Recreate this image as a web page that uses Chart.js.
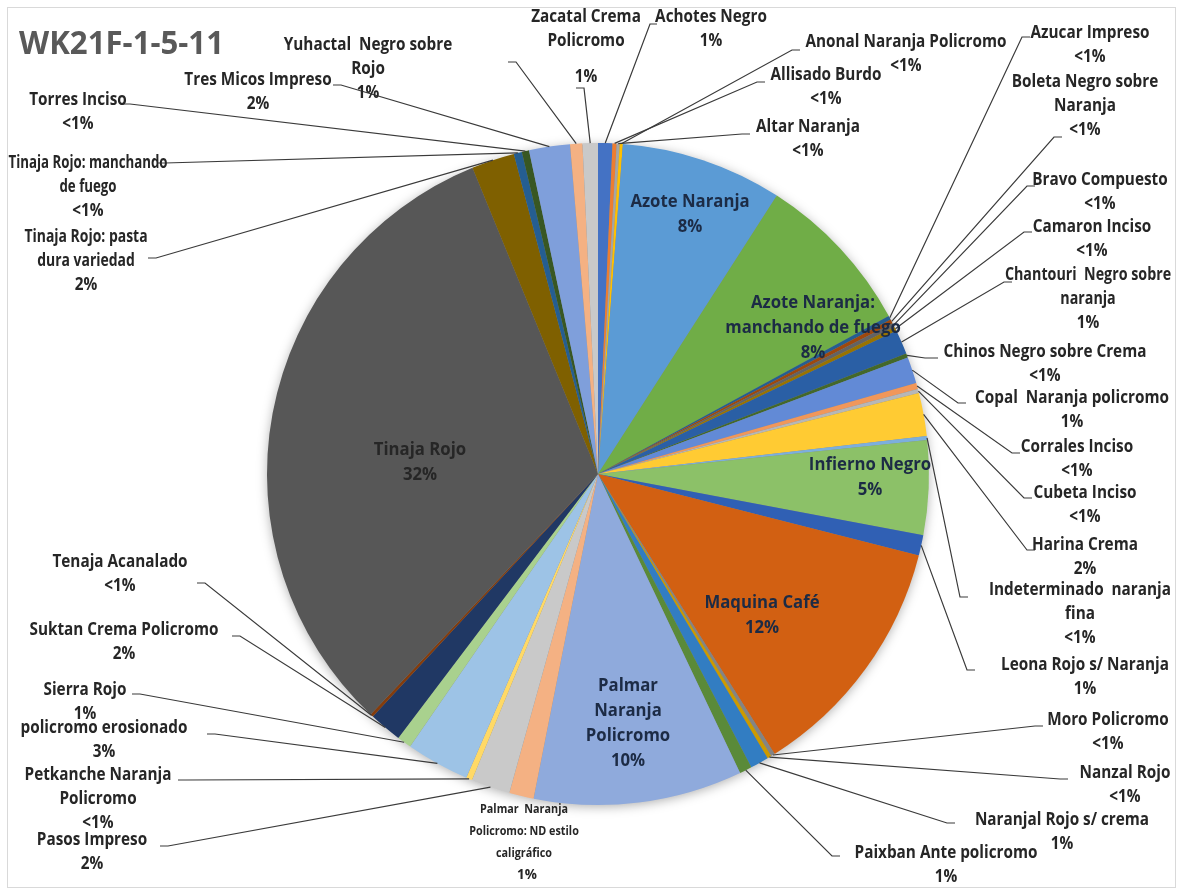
<!DOCTYPE html>
<html>
<head>
<meta charset="utf-8">
<script src="https://cdn.jsdelivr.net/npm/chart.js@4.4.1/dist/chart.umd.min.js"></script>
<style>
  html, body { margin: 0; padding: 0; background: #fff; }
  canvas { display: block; }
</style>
</head>
<body>
<canvas id="pieChart" width="1183" height="892"></canvas>
<script>
// Slice names, clockwise from 12 o'clock
const categories = [
    'Achotes Negro', 'Allisado Burdo', 'Altar Naranja', 'Anonal Naranja Policromo',
    'Azote Naranja', 'Azote Naranja: manchando de fuego', 'Azucar Impreso',
    'Boleta Negro sobre Naranja', 'Bravo Compuesto', 'Camaron Inciso',
    'Chantouri Negro sobre naranja', 'Chinos Negro sobre Crema', 'Copal Naranja policromo',
    'Corrales Inciso', 'Cubeta Inciso', 'Harina Crema', 'Indeterminado naranja fina',
    'Infierno Negro', 'Leona Rojo s/ Naranja', 'Maquina Café', 'Moro Policromo',
    'Nanzal Rojo', 'Naranjal Rojo s/ crema', 'Paixban Ante policromo',
    'Palmar Naranja Policromo', 'Palmar Naranja Policromo: ND estilo caligráfico',
    'Pasos Impreso', 'Petkanche Naranja Policromo', 'policromo erosionado', 'Sierra Rojo',
    'Suktan Crema Policromo', 'Tenaja Acanalado', 'Tinaja Rojo',
    'Tinaja Rojo: pasta dura variedad', 'Tinaja Rojo: manchando de fuego', 'Torres Inciso',
    'Tres Micos Impreso', 'Yuhactal Negro sobre Rojo', 'Zacatal Crema Policromo'
];

// Share of sherds (%)
const values = [
    0.7, 0.2, 0.15, 0.15,
    7.9, 8.0, 0.2,
    0.2, 0.2, 0.2,
    1.2, 0.2, 1.3,
    0.3, 0.2, 2.1, 0.2,
    4.6, 1.0, 12.1, 0.2,
    0.2, 0.9, 0.6,
    10.2, 1.2,
    1.9, 0.3, 3.1, 0.7,
    1.6, 0.15, 31.8,
    2.1, 0.4, 0.35,
    2.0, 0.6, 0.75
];

const colors = [
    '#4472C4', '#ED7D31', '#A5A5A5', '#FFC000',
    '#5B9BD5', '#70AD47', '#255E91',
    '#9E480E', '#636363', '#997300',
    '#2A5FA5', '#43682B', '#628AD6',
    '#F1975A', '#B7B7B7', '#FFCB33', '#7CAFDD',
    '#8CC168', '#3060B4', '#D26012', '#848484',
    '#CC9A00', '#327DC2', '#5A8A39',
    '#8FAADC', '#F4B183',
    '#C9C9C9', '#FFD966', '#9DC3E6', '#A9D18E',
    '#203864', '#843C0C', '#575757',
    '#7F6000', '#255E91', '#385723',
    '#7F9FDB', '#F4B183', '#C9C9C9'
];

const total = values.reduce((a, b) => a + b, 0);
const pctText = (i) => {
    const p = Math.round(values[i] / total * 100);
    return p < 1 ? '<1%' : p + '%';
};

// Label layout: text centre, first line y, wrapped lines, leader start/bend
const outsideLabels = [
    { i: 0,  x: 711,  y: 17,  lines: ['Achotes Negro'], lead: [657, 24, 650] },
    { i: 1,  x: 826,  y: 75,  lines: ['Allisado Burdo'], lead: [765, 82, 757] },
    { i: 2,  x: 808,  y: 127, lines: ['Altar Naranja'], lead: [750, 134, 742] },
    { i: 3,  x: 906,  y: 42,  lines: ['Anonal Naranja Policromo'], lead: [800, 50, 792] },
    { i: 6,  x: 1090, y: 33,  lines: ['Azucar Impreso'], lead: [1030, 37, 1022] },
    { i: 7,  x: 1085, y: 82,  lines: ['Boleta Negro sobre', 'Naranja'], lead: [1062, 137, 1054] },
    { i: 8,  x: 1100, y: 180, lines: ['Bravo Compuesto'], lead: [1035, 186, 1027] },
    { i: 9,  x: 1092, y: 227, lines: ['Camaron Inciso'], lead: [1032, 232, 1024] },
    { i: 10, x: 1088, y: 275, lines: ['Chantouri  Negro sobre', 'naranja'], lead: [1012, 282, 1004], sx: 0.84 },
    { i: 11, x: 1045, y: 352, lines: ['Chinos Negro sobre Crema'], lead: [938, 358, 925] },
    { i: 12, x: 1072, y: 398, lines: ['Copal  Naranja policromo'], lead: [966, 403, 958] },
    { i: 13, x: 1077, y: 447, lines: ['Corrales Inciso'], lead: [1020, 453, 1012] },
    { i: 14, x: 1085, y: 493, lines: ['Cubeta Inciso'], lead: [1032, 498, 1024] },
    { i: 15, x: 1085, y: 545, lines: ['Harina Crema'], lead: [1035, 550, 1027] },
    { i: 16, x: 1080, y: 590, lines: ['Indeterminado  naranja', 'fina'], lead: [968, 597, 960] },
    { i: 18, x: 1085, y: 665, lines: ['Leona Rojo s/ Naranja'], lead: [975, 670, 967] },
    { i: 20, x: 1108, y: 720, lines: ['Moro Policromo'], lead: [1043, 726, 1035] },
    { i: 21, x: 1125, y: 773, lines: ['Nanzal Rojo'], lead: [1068, 779, 1060] },
    { i: 22, x: 1062, y: 820, lines: ['Naranjal Rojo s/ crema'], lead: [955, 823, 947] },
    { i: 23, x: 946,  y: 853, lines: ['Paixban Ante policromo'], lead: [840, 856, 832] },
    { i: 26, x: 92,   y: 840, lines: ['Pasos Impreso'], lead: [160, 846, 168] },
    { i: 27, x: 98,   y: 775, lines: ['Petkanche Naranja', 'Policromo'], lead: [178, 780, 186] },
    { i: 28, x: 104,  y: 728, lines: ['policromo erosionado'], lead: [207, 734, 215] },
    { i: 29, x: 85,   y: 690, lines: ['Sierra Rojo'], lead: [132, 694, 140] },
    { i: 30, x: 124,  y: 630, lines: ['Suktan Crema Policromo'], lead: [232, 636, 240] },
    { i: 31, x: 120,  y: 562, lines: ['Tenaja Acanalado'], lead: [197, 583, 205] },
    { i: 33, x: 86,   y: 237, lines: ['Tinaja Rojo: pasta', 'dura variedad'], lead: [148, 258, 156], sx: 0.82 },
    { i: 34, x: 88,   y: 163, lines: ['Tinaja Rojo: manchando', 'de fuego'], lead: [157, 163, 165], sx: 0.78 },
    { i: 35, x: 78,   y: 100, lines: ['Torres Inciso'], lead: [122, 104, 130] },
    { i: 36, x: 258,  y: 80,  lines: ['Tres Micos Impreso'], lead: [333, 85, 341] },
    { i: 37, x: 368,  y: 45,  lines: ['Yuhactal  Negro sobre', 'Rojo'], lead: [508, 62, 516] },
    { i: 38, x: 586,  y: 17,  lines: ['Zacatal Crema', 'Policromo'], pctY: 77, lead: [576, 88, 584] }
];

const insideLabels = [
    { i: 4,  x: 690, y: 202, lines: ['Azote Naranja'] },
    { i: 5,  x: 813, y: 303, lines: ['Azote Naranja:', 'manchando de fuego'] },
    { i: 17, x: 870, y: 465, lines: ['Infierno Negro'] },
    { i: 19, x: 762, y: 603, lines: ['Maquina Café'] },
    { i: 24, x: 628, y: 686, lines: ['Palmar', 'Naranja', 'Policromo'] },
    { i: 32, x: 420, y: 450, lines: ['Tinaja Rojo'] }
];

const FONT = '"Open Sans", "Liberation Sans", sans-serif';

function drawText(ctx, s, x, y, size, color, align, sx) {
    ctx.save();
    ctx.font = 'bold ' + size + 'px ' + FONT;
    ctx.fillStyle = color;
    ctx.textBaseline = 'middle';
    ctx.textAlign = align || 'center';
    ctx.translate(x, y);
    ctx.scale(sx || 0.9, 1);
    ctx.fillText(s, 0, 0);
    ctx.restore();
}

const pieDecor = {
    id: 'pieDecor',
    beforeDatasetsDraw(chart) {
        const ctx = chart.ctx;
        const arc0 = chart.getDatasetMeta(0).data[0];
        ctx.save();
        ctx.shadowColor = 'rgba(0,0,0,0.35)';
        ctx.shadowBlur = 12;
        ctx.shadowOffsetY = 2;
        ctx.fillStyle = '#888';
        ctx.beginPath();
        ctx.arc(arc0.x, arc0.y, arc0.outerRadius - 1, 0, Math.PI * 2);
        ctx.fill();
        ctx.restore();
    },
    afterDatasetsDraw(chart) {
        const ctx = chart.ctx;
        const arcs = chart.getDatasetMeta(0).data;

        // chart frame
        ctx.save();
        ctx.strokeStyle = '#D9D9D9';
        ctx.lineWidth = 1;
        ctx.strokeRect(7.5, 7.5, 1168, 880);
        ctx.restore();

        // title, stretched to the width it has in the source
        ctx.save();
        ctx.font = 'bold 32px ' + FONT;
        const tw = ctx.measureText('WK21F-1-5-11').width;
        ctx.restore();
        drawText(ctx, 'WK21F-1-5-11', 19, 45, 32, '#595959', 'left', 205 / tw);

        // leader lines
        ctx.save();
        ctx.strokeStyle = '#3a3a3a';
        ctx.lineWidth = 1.2;
        outsideLabels.forEach(l => {
            const a = arcs[l.i];
            const mid = (a.startAngle + a.endAngle) / 2;
            const px = a.x + Math.cos(mid) * a.outerRadius;
            const py = a.y + Math.sin(mid) * a.outerRadius;
            ctx.beginPath();
            ctx.moveTo(l.lead[0], l.lead[1]);
            ctx.lineTo(l.lead[2], l.lead[1]);
            ctx.lineTo(px, py);
            ctx.stroke();
        });
        ctx.restore();

        // outside labels
        outsideLabels.forEach(l => {
            l.lines.forEach((s, k) => drawText(ctx, s, l.x, l.y + k * 24, 17, '#262626', 'center', l.sx));
            const py = l.pctY || l.y + l.lines.length * 24;
            drawText(ctx, pctText(l.i), l.x, py, 17, '#262626');
        });

        // small label for Palmar ND
        ['Palmar  Naranja', 'Policromo: ND estilo', 'caligráfico'].forEach((s, k) => {
            drawText(ctx, s, 524, 810 + k * 22, 12, '#262626');
        });
        drawText(ctx, pctText(25), 527, 875, 15, '#262626');

        // labels inside slices
        insideLabels.forEach(l => {
            const lines = l.lines.concat([pctText(l.i)]);
            const col = l.i === 32 ? '#262626' : '#1c2b45';
            lines.forEach((s, k) => drawText(ctx, s, l.x, l.y + k * 25, 18, col, 'center', 0.93));
        });
    }
};

const ctx = document.getElementById('pieChart').getContext('2d');
const pieChart = new Chart(ctx, {
    type: 'pie',
    data: {
        labels: categories,
        datasets: [{
            data: values,
            backgroundColor: colors,
            borderWidth: 0
        }]
    },
    options: {
        responsive: false,
        animation: false,
        devicePixelRatio: 1,
        layout: {
            padding: { left: 267, right: 254, top: 143, bottom: 87 }
        },
        plugins: {
            legend: { display: false },
            tooltip: { enabled: false },
            title: { display: false }
        }
    },
    plugins: [pieDecor]
});
</script>
</body>
</html>
